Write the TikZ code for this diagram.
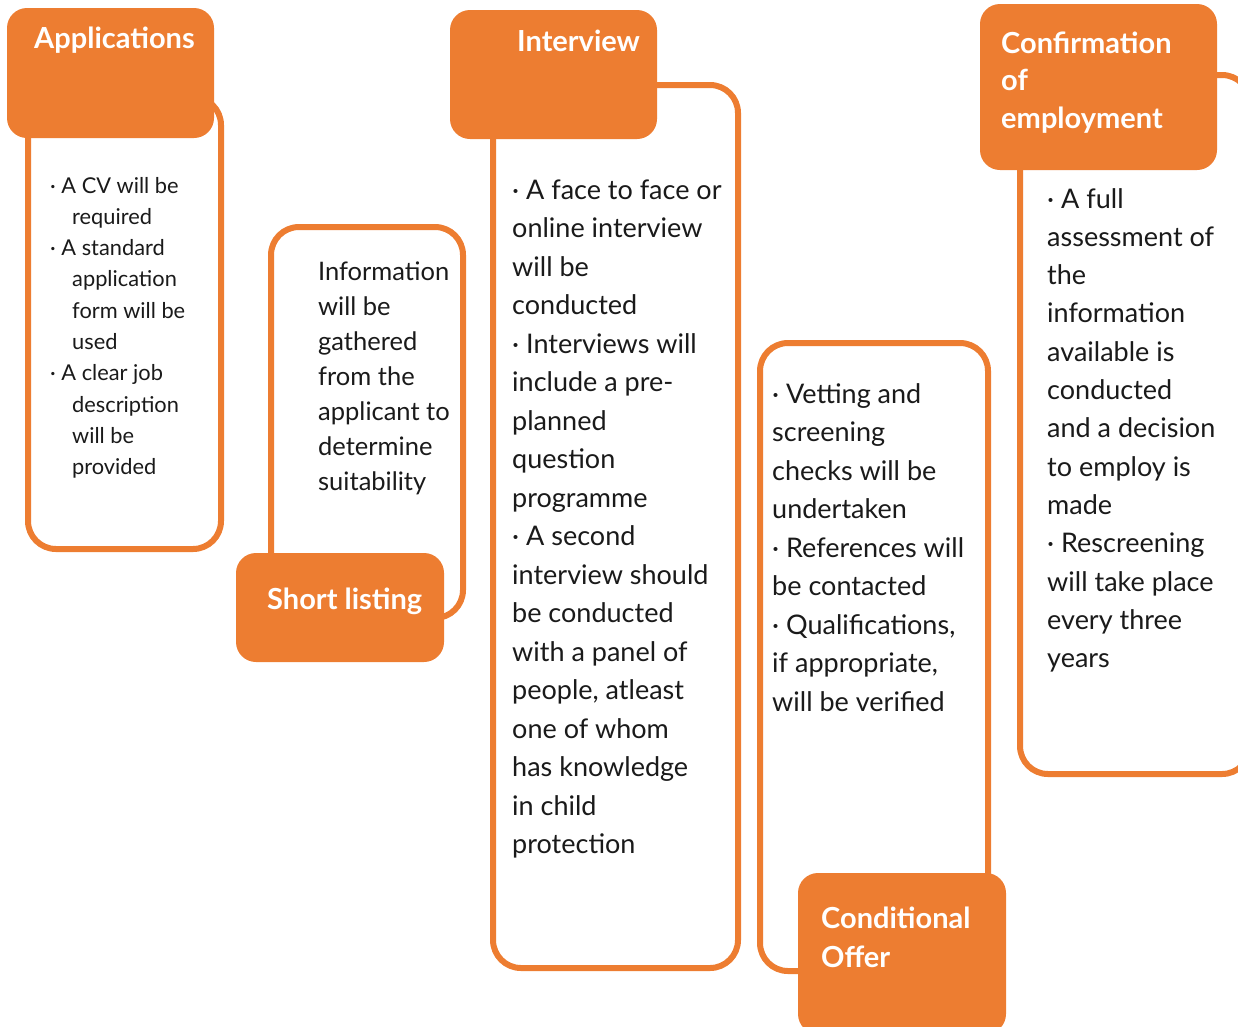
\documentclass[tikz,border=0pt]{standalone}
\usepackage{fontspec}
\setmainfont{Lato}
\definecolor{org}{RGB}{237,125,49}
\definecolor{ink}{RGB}{26,26,26}
\begin{document}
\begin{tikzpicture}[x=1pt,y=-1pt,
  outl/.style={draw=org, line width=6pt, rounded corners=28pt, fill=white},
  headbox/.style={fill=org, rounded corners=20pt},
  htext/.style={text=white, font=\bfseries\fontsize{29}{38}\selectfont, anchor=base west, inner sep=0pt, align=left},
  body/.style={text=ink, font=\fontsize{27}{38.5}\selectfont, anchor=base west, inner sep=0pt, align=left},
  bodysm/.style={body, font=\fontsize{21.8}{31.3}\selectfont},
  bodymd/.style={body, font=\fontsize{25.5}{35}\selectfont}]
\useasboundingbox (0,0) rectangle (1238,1026);
% Applications (anchors are at the baseline of the last line)
\draw[outl] (28,97) rectangle (221,549);
\fill[headbox] (7,8) rectangle (214,138);
\node[htext] (apphead) at (34,48) {Applications};
\node[bodysm] (apptext) at (50,474.7) {· A CV will be\\ \hspace*{22pt}required\\ · A standard\\ \hspace*{22pt}application\\ \hspace*{22pt}form will be\\ \hspace*{22pt}used\\ · A clear job\\ \hspace*{22pt}description\\ \hspace*{22pt}will be\\ \hspace*{22pt}provided};
% Short listing
\draw[outl] (271,227) rectangle (463,618);
\fill[headbox] (236,553) rectangle (444,662);
\node[htext] (shorthead) at (267,609) {Short listing};
\node[bodymd] (shorttext) at (318,490) {Information\\will be\\gathered\\from the\\applicant to\\determine\\suitability};
% Interview
\draw[outl] (493,85) rectangle (738,968);
\fill[headbox] (450,10) rectangle (657,139);
\node[htext] (inthead) at (517,51) {Interview};
\node[body] (inttext) at (512,853.5) {· A face to face or\\online interview\\will be\\conducted\\· Interviews will\\include a pre-\\planned\\question\\programme\\· A second\\interview should\\be conducted\\with a panel of\\people, atleast\\one of whom\\has knowledge\\in child\\protection};
% Conditional offer
\draw[outl] (760,343) rectangle (988,971);
\fill[headbox] (798,873) rectangle (1006,1034);
\node[htext, font=\bfseries\fontsize{29}{39}\selectfont] (condhead) at (821,967) {Conditional\\Offer};
\node[body] (condtext) at (772,711) {· Vetting and\\screening\\checks will be\\undertaken\\· References will\\be contacted\\· Qualifications,\\if appropriate,\\will be verified};
% Confirmation
\draw[outl] (1020,75) rectangle (1250,774);
\fill[headbox] (980,4) rectangle (1217,170);
\node[htext, font=\bfseries\fontsize{29}{37.5}\selectfont] (confhead) at (1001,128) {Confirmation\\of\\employment};
\node[body, font=\fontsize{27}{38.3}\selectfont] (conftext) at (1047,667.6) {· A full\\assessment of\\the\\information\\available is\\conducted\\and a decision\\to employ is\\made\\· Rescreening\\will take place\\every three\\years};
\end{tikzpicture}
\end{document}
